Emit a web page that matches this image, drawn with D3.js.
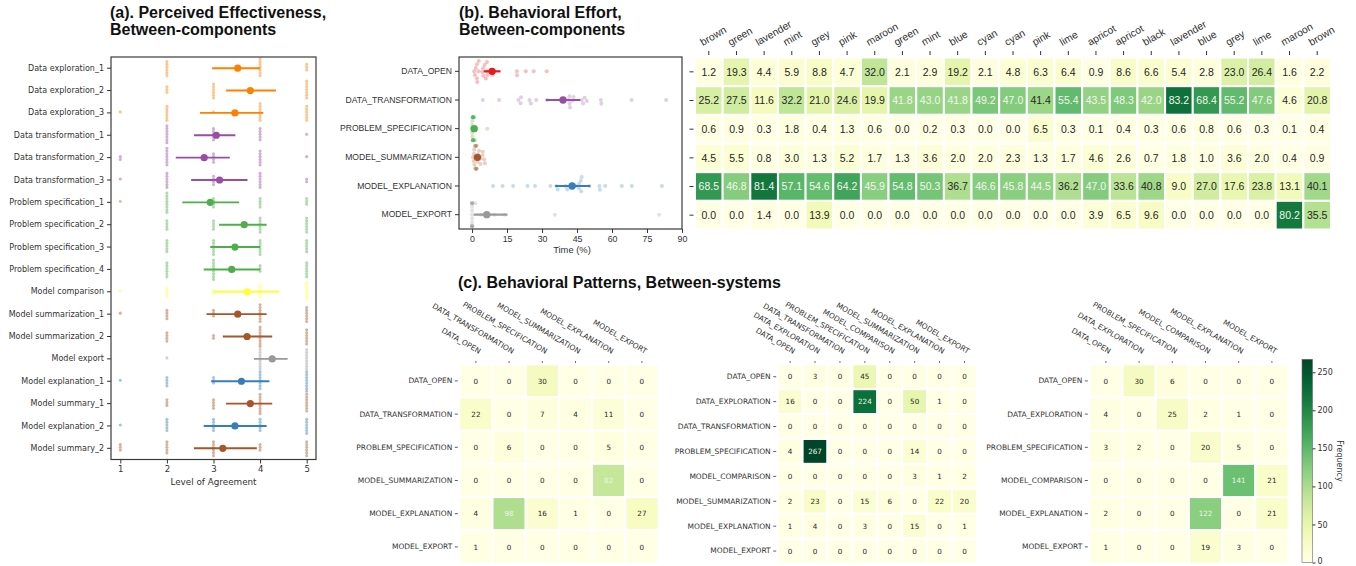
<!DOCTYPE html>
<html><head><meta charset="utf-8">
<script src="https://cdn.jsdelivr.net/npm/d3@7"></script>
<style>body{margin:0;background:#fff;} svg{display:block;}</style>
</head><body>
<svg id="c" width="1356" height="566"></svg>
<script>
// ---------------- DATA ----------------
// (a) Perceived effectiveness
const aLabels = ["Data exploration_1","Data exploration_2","Data exploration_3","Data transformation_1","Data transformation_2","Data transformation_3","Problem specification_1","Problem specification_2","Problem specification_3","Problem specification_4","Model comparison","Model summarization_1","Model summarization_2","Model export","Model explanation_1","Model summary_1","Model explanation_2","Model summary_2"];
const aGroup = ["exploration","exploration","exploration","transformation","transformation","transformation","specification","specification","specification","specification","comparison","summarization","summarization","export","explanation","summarization","explanation","summarization"];
const aMean = [3.52,3.79,3.46,3.06,2.80,3.13,2.93,3.66,3.46,3.39,3.72,3.52,3.72,4.26,3.60,3.79,3.46,3.20];
const aLo   = [2.97,3.27,2.71,2.58,2.19,2.52,2.33,3.12,2.93,2.79,3.00,2.85,3.20,3.87,2.95,3.27,2.79,2.58];
const aHi   = [4.00,4.34,4.07,3.47,3.35,3.73,3.55,4.14,4.00,4.00,4.41,4.14,4.26,4.59,4.20,4.26,4.14,3.93];
const aLevels = [1,2,3,4,5];
// number of responses at each agreement level 1..5
const aCounts = [
  [0,6,0,7,3],[0,3,6,0,7],[1,6,1,7,6],
  [0,7,5,5,1],[2,7,4,6,1],[1,6,4,6,2],
  [1,8,4,4,3],[0,4,4,6,6],[0,5,6,6,5],[0,6,8,3,6],
  [1,4,2,5,7],[1,4,3,7,6],[0,4,2,8,6],[0,1,0,8,8],
  [1,4,3,7,8],[0,3,4,8,7],[1,5,5,5,6],[3,5,6,3,6]
];
const aTicks = [1,2,3,4,5];

// (b) Behavioral effort
const bRows = ["DATA_OPEN","DATA_TRANSFORMATION","PROBLEM_SPECIFICATION","MODEL_SUMMARIZATION","MODEL_EXPLANATION","MODEL_EXPORT"];
const bCols = ["brown","green","lavender","mint","grey","pink","maroon","green","mint","blue","cyan","cyan","pink","lime","apricot","apricot","black","lavender","blue","grey","lime","maroon","brown"];
const bDataOpen      = [1.2,19.3,4.4,5.9,8.8,4.7,32.0,2.1,2.9,19.2,2.1,4.8,6.3,6.4,0.9,8.6,6.6,5.4,2.8,23.0,26.4,1.6,2.2];
const bDataTransform = [25.2,27.5,11.6,32.2,21.0,24.6,19.9,41.8,43.0,41.8,49.2,47.0,41.4,55.4,43.5,48.3,42.0,83.2,68.4,55.2,47.6,4.6,20.8];
const bProblemSpec   = [0.6,0.9,0.3,1.8,0.4,1.3,0.6,0.0,0.2,0.3,0.0,0.0,6.5,0.3,0.1,0.4,0.3,0.6,0.8,0.6,0.3,0.1,0.4];
const bModelSumm     = [4.5,5.5,0.8,3.0,1.3,5.2,1.7,1.3,3.6,2.0,2.0,2.3,1.3,1.7,4.6,2.6,0.7,1.8,1.0,3.6,2.0,0.4,0.9];
const bModelExpl     = [68.5,46.8,81.4,57.1,54.6,64.2,45.9,54.8,50.3,36.7,46.6,45.8,44.5,36.2,47.0,33.6,40.8,9.0,27.0,17.6,23.8,13.1,40.1];
const bModelExport   = [0.0,0.0,1.4,0.0,13.9,0.0,0.0,0.0,0.0,0.0,0.0,0.0,0.0,0.0,3.9,6.5,9.6,0.0,0.0,0.0,0.0,80.2,35.5];
const bMean = [8.6,39.0,0.9,2.3,42.9,6.3];
const bLo   = [5.0,31.6,0.4,1.6,35.6,0.7];
const bHi   = [12.2,46.4,1.6,3.0,50.7,15.2];
const bTicks = [0,15,30,45,60,75,90];

// (c) Behavioral patterns (transition counts)
const c1Labels = ["DATA_OPEN","DATA_TRANSFORMATION","PROBLEM_SPECIFICATION","MODEL_SUMMARIZATION","MODEL_EXPLANATION","MODEL_EXPORT"];
const c1Values = [
  [0,0,30,0,0,0],
  [22,0,7,4,11,0],
  [0,6,0,0,5,0],
  [0,0,0,0,82,0],
  [4,98,16,1,0,27],
  [1,0,0,0,0,0]
];
const c2Labels = ["DATA_OPEN","DATA_EXPLORATION","DATA_TRANSFORMATION","PROBLEM_SPECIFICATION","MODEL_COMPARISON","MODEL_SUMMARIZATION","MODEL_EXPLANATION","MODEL_EXPORT"];
const c2Values = [
  [0,3,0,45,0,0,0,0],
  [16,0,0,224,0,50,1,0],
  [0,0,0,0,0,0,0,0],
  [4,267,0,0,0,14,0,0],
  [0,0,0,0,0,3,1,2],
  [2,23,0,15,6,0,22,20],
  [1,4,0,3,0,15,0,1],
  [0,0,0,0,0,0,0,0]
];
const c3Labels = ["DATA_OPEN","DATA_EXPLORATION","PROBLEM_SPECIFICATION","MODEL_COMPARISON","MODEL_EXPLANATION","MODEL_EXPORT"];
const c3Values = [
  [0,30,6,0,0,0],
  [4,0,25,2,1,0],
  [3,2,0,20,5,0],
  [0,0,0,0,141,21],
  [2,0,0,122,0,21],
  [1,0,0,19,3,0]
];
const cbTicks = [0,50,100,150,200,250];

// ---------------- STYLE ----------------
const groupColor = {exploration:"#ff7f00", transformation:"#984ea3", specification:"#4daf4a", comparison:"#ffff33", summarization:"#a65628", export:"#999999", explanation:"#377eb8"};
const bColors = ["#e41a1c","#984ea3","#4daf4a","#a65628","#377eb8","#999999"];
const F_AR = "'Liberation Sans', Arial, sans-serif";
const F_DV = "'DejaVu Sans', sans-serif";
const INK = "#333";

const svg = d3.select("#c");

// beeswarm layout; points that do not fit inside +/-lim are stacked at the edge
function swarm(xs, r, lim) {
  const idx = xs.map((x,i)=>i).sort((a,b)=>xs[a]-xs[b]);
  const placed = [], off = new Array(xs.length), d = 2*r;
  for (const i of idx) {
    const x = xs[i];
    const near = placed.filter(p => Math.abs(p.x-x) < d);
    const cands = [0];
    near.forEach(p => { const dy = Math.sqrt(d*d-(p.x-x)**2); cands.push(p.y+dy, p.y-dy); });
    cands.sort((a,b)=>Math.abs(a)-Math.abs(b));
    let y = cands.find(c => near.every(p => (p.x-x)**2+(p.y-c)**2 >= d*d-1e-6));
    placed.push({x,y});
    off[i] = Math.max(-lim, Math.min(lim, y));
  }
  return off;
}
function styleAxis(g, font, size) {
  g.select(".domain").remove();
  g.selectAll(".tick line").attr("stroke", INK).attr("stroke-width", 1);
  g.selectAll(".tick text").attr("fill", INK).attr("font-family", font).attr("font-size", size);
}
function title(x, y, lines) {
  lines.forEach((t,i)=> svg.append("text").attr("x",x).attr("y",y+i*17.6)
    .attr("font-family",F_AR).attr("font-weight","bold").attr("font-size",16).attr("fill","#111").text(t));
}
title(110, 17.5, ["(a). Perceived Effectiveness,","Between-components"]);
title(459, 17.5, ["(b). Behavioral Effort,","Between-components"]);
title(458, 287.5, ["(c). Behavioral Patterns, Between-systems"]);

// ---------------- PANEL (a) ----------------
{
  const x = d3.scaleLinear().domain([0.8,5.2]).range([111,316]);
  const y = d3.scaleBand().domain(aLabels).range([57,459.5]);
  const g = svg.append("g");
  aLabels.forEach((lab,i)=>{
    const col = groupColor[aGroup[i]];
    const pts = [];
    aCounts[i].forEach((n,k)=>{ for(let j=0;j<n;j++) pts.push(aLevels[k]); });
    const xs = pts.map(v=>x(v));
    const off = swarm(xs, 1.4, 11);
    const cy = y(lab)+y.bandwidth()/2 - 1;
    g.append("g").selectAll("circle").data(pts).join("circle")
      .attr("cx",(d,j)=>xs[j]).attr("cy",(d,j)=>cy+off[j]).attr("r",1.55)
      .attr("fill",col).attr("fill-opacity",0.45);
    const ly = y(lab)+y.bandwidth()/2;
    g.append("line").attr("x1",x(aLo[i])).attr("x2",x(aHi[i])).attr("y1",ly).attr("y2",ly)
      .attr("stroke",col).attr("stroke-width",1.9);
    g.append("circle").attr("cx",x(aMean[i])).attr("cy",ly).attr("r",3.6).attr("fill",col);
  });
  svg.append("rect").attr("x",111).attr("y",57).attr("width",205).attr("height",402.5)
    .attr("fill","none").attr("stroke","#3a3a3a").attr("stroke-width",1.2);
  const gx = svg.append("g").attr("transform","translate(0,459.5)")
    .call(d3.axisBottom(x).tickValues(aTicks).tickFormat(d3.format("d")).tickSize(4).tickPadding(2.5));
  styleAxis(gx, F_DV, 8.5);
  const gy = svg.append("g").attr("transform","translate(111,0)")
    .call(d3.axisLeft(y).tickSize(4).tickPadding(3));
  styleAxis(gy, F_DV, 8);
  svg.append("text").attr("x",213.5).attr("y",485).attr("text-anchor","middle")
    .attr("font-family",F_DV).attr("font-size",8.8).attr("fill",INK).text("Level of Agreement");
}

// ---------------- PANEL (b) dot plot ----------------
const bValues = [bDataOpen,bDataTransform,bProblemSpec,bModelSumm,bModelExpl,bModelExport];
{
  const x = d3.scaleLinear().domain([-5.6,90]).range([459,682]);
  const y = d3.scaleBand().domain(bRows).range([57,229]);
  const g = svg.append("g");
  bRows.forEach((row,i)=>{
    const col = bColors[i];
    const vals = bValues[i];
    const xs = vals.map(v=>x(v));
    const off = swarm(xs, 1.9, 11.5);
    const cy = y(row)+y.bandwidth()/2;
    g.append("g").selectAll("circle").data(vals).join("circle")
      .attr("cx",(d,j)=>xs[j]).attr("cy",(d,j)=>cy+off[j]).attr("r",2.0)
      .attr("fill",col).attr("fill-opacity",0.28);
    g.append("line").attr("x1",x(bLo[i])).attr("x2",x(bHi[i])).attr("y1",cy).attr("y2",cy)
      .attr("stroke",col).attr("stroke-width",2.2);
    g.append("circle").attr("cx",x(bMean[i])).attr("cy",cy).attr("r",3.7).attr("fill",col);
  });
  svg.append("rect").attr("x",459).attr("y",57).attr("width",223).attr("height",172)
    .attr("fill","none").attr("stroke","#3a3a3a").attr("stroke-width",1.2);
  const gx = svg.append("g").attr("transform","translate(0,229)")
    .call(d3.axisBottom(x).tickValues(bTicks).tickSize(4).tickPadding(2.5));
  styleAxis(gx, F_AR, 8.8);
  const gy = svg.append("g").attr("transform","translate(459,0)")
    .call(d3.axisLeft(y).tickSize(4).tickPadding(3));
  styleAxis(gy, F_AR, 8.6);
  svg.append("text").attr("x",572).attr("y",253).attr("text-anchor","middle")
    .attr("font-family",F_AR).attr("font-size",9.4).attr("fill",INK).text("Time (%)");
}

// ---------------- PANEL (b) heatmap ----------------
{
  const x = d3.scaleBand().domain(d3.range(bCols.length)).range([695,1331]);
  const y = d3.scaleBand().domain(bRows).range([57.5,229.5]);
  const color = v => d3.interpolateYlGn(Math.min(1, v/100));
  const g = svg.append("g");
  bRows.forEach((row,i)=>{
    const vals = bValues[i];
    const cells = g.append("g").selectAll("g").data(vals).join("g");
    cells.append("rect").attr("x",(d,j)=>x(j)).attr("y",y(row)).attr("width",x.bandwidth()).attr("height",y.bandwidth())
      .attr("fill",d=>color(d)).attr("stroke","#fff").attr("stroke-width",2);
    cells.append("text").attr("x",(d,j)=>x(j)+x.bandwidth()/2).attr("y",y(row)+y.bandwidth()/2+3.8)
      .attr("text-anchor","middle").attr("font-family",F_AR).attr("font-size",10.5)
      .attr("fill",d=> d>41.5 ? "#f4f7ef" : "#262626").text(d=>d.toFixed(1));
  });
  const gy = svg.append("g").attr("transform","translate(693.5,0)")
    .call(d3.axisLeft(y).tickSize(4).tickFormat(""));
  styleAxis(gy, F_AR, 8);
  const gx = svg.append("g").attr("transform","translate(0,55)")
    .call(d3.axisTop(x).tickSize(4).tickFormat(j=>bCols[j]));
  styleAxis(gx, F_AR, 10.3);
  gx.selectAll(".tick text").attr("text-anchor","start").attr("dy",0).attr("y",0)
    .attr("transform","translate(-6,-9) rotate(-30)");
}

// ---------------- PANEL (c) ----------------
const cMax = d3.max([c1Values,c2Values,c3Values].flat(2));
const cColor = v => d3.interpolateYlGn(v/cMax);
function matrix(labels, values, x0, cell) {
  const n = labels.length;
  const x = d3.scaleBand().domain(labels).range([x0, x0+cell*n]);
  const y = d3.scaleBand().domain(labels).range([364.3, 364.3+cell*n]);
  const g = svg.append("g");
  labels.forEach((r,i)=>{
    const cells = g.append("g").selectAll("g").data(values[i]).join("g");
    cells.append("rect").attr("x",(d,j)=>x(labels[j])).attr("y",y(r)).attr("width",x.bandwidth()).attr("height",y.bandwidth())
      .attr("fill",d=>cColor(d)).attr("stroke","#fff").attr("stroke-width",2);
    cells.append("text").attr("x",(d,j)=>x(labels[j])+x.bandwidth()/2).attr("y",y(r)+y.bandwidth()/2+2.6)
      .attr("text-anchor","middle").attr("font-family",F_DV).attr("font-size",7.2)
      .attr("fill",d=> d>=80 ? "#eef5e6" : "#262626").text(d=>d);
  });
  const gy = svg.append("g").attr("transform",`translate(${x0-1.5},0)`)
    .call(d3.axisLeft(y).tickSize(3).tickPadding(2.5));
  styleAxis(gy, F_DV, 7.5);
  gy.selectAll(".tick line").attr("stroke-width",0.8);
  const gx = svg.append("g").attr("transform","translate(0,363)")
    .call(d3.axisTop(x).tickSize(2).tickPadding(0));
  styleAxis(gx, F_DV, 7.5);
  gx.selectAll(".tick line").attr("stroke-width",0.7);
  gx.selectAll(".tick text").attr("text-anchor","end").attr("dy",0).attr("y",0)
    .attr("transform","translate(3,-9) rotate(30)");
}
matrix(c1Labels, c1Values, 459.3, 33.2);
matrix(c2Labels, c2Values, 777.7, 24.9);
matrix(c3Labels, c3Values, 1089.3, 33.2);

// colorbar
{
  const x0 = 1302, w = 10.5, top = 359.3, bot = 562.5;
  const defs = svg.append("defs");
  const grad = defs.append("linearGradient").attr("id","cbg").attr("x1",0).attr("y1",1).attr("x2",0).attr("y2",0);
  d3.range(0,1.0001,0.05).forEach(t=> grad.append("stop").attr("offset",t).attr("stop-color",d3.interpolateYlGn(t)));
  svg.append("rect").attr("x",x0).attr("y",top).attr("width",w).attr("height",bot-top)
    .attr("fill","url(#cbg)").attr("stroke","#666").attr("stroke-width",0.6);
  const s = d3.scaleLinear().domain([0,cMax]).range([bot,top]);
  const ga = svg.append("g").attr("transform",`translate(${x0+w},0)`)
    .call(d3.axisRight(s).tickValues(cbTicks).tickSize(3).tickPadding(2));
  styleAxis(ga, F_DV, 8);
  ga.selectAll(".tick text").filter(d=>d===0).attr("dy","0.1em");
  svg.append("text").attr("transform","translate(1337,461) rotate(90)").attr("text-anchor","middle")
    .attr("font-family",F_DV).attr("font-size",8).attr("fill",INK).text("Frequency");
}
</script>
</body></html>
